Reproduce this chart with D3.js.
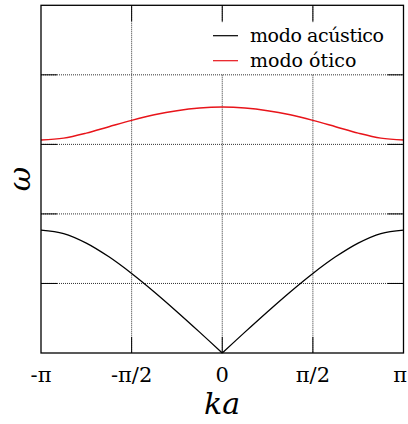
<!DOCTYPE html>
<html><head><meta charset="utf-8">
<script src="https://cdn.jsdelivr.net/npm/d3@7"></script>
<style>
html,body{margin:0;padding:0;background:#fff;}
text{font-family:"DejaVu Serif","Liberation Serif",Times,serif;}
</style></head>
<body><svg id="c" width="408" height="424"></svg>
<script>
// ka in units of pi
const ka = [-1,-0.875,-0.75,-0.625,-0.5,-0.375,-0.25,-0.125,0,0.125,0.25,0.375,0.5,0.625,0.75,0.875,1];
const acoustic = [1.768,1.718,1.581,1.383,1.144,0.878,0.594,0.300,0,0.300,0.594,0.878,1.144,1.383,1.581,1.718,1.768];
const optical  = [3.062,3.090,3.162,3.254,3.345,3.425,3.485,3.523,3.536,3.523,3.485,3.425,3.345,3.254,3.162,3.090,3.062];
const xTicks = [-1,-0.5,0,0.5,1];
const xTickLabels = ["-π","-π/2","0","π/2","π"];
const yTicks = [0,1,2,3,4,5];
const seriesNames = ["modo acústico","modo ótico"];
const seriesColors = ["#000000","#e8141a"];

const L=41, R=403.5, T=5.3, B=353;
const svg = d3.select("#c");
const x = d3.scaleLinear().domain([-1,1]).range([L,R]);
const y = d3.scaleLinear().domain([0,5]).range([B,T]);

// grid
const g = svg.append("g");
g.selectAll(".vg").data(xTicks.slice(1,-1)).join("line")
  .attr("x1",d=>x(d)).attr("x2",d=>x(d)).attr("y1",T).attr("y2",B)
  .attr("stroke","#333").attr("stroke-width",1).attr("stroke-dasharray","1,1");
g.selectAll(".hg").data(yTicks.slice(1,-1)).join("line")
  .attr("y1",d=>y(d)).attr("y2",d=>y(d)).attr("x1",L).attr("x2",R)
  .attr("stroke","#333").attr("stroke-width",1).attr("stroke-dasharray","1,1");

// curves
const pts = (vals)=> ka.map((k,i)=>[k,vals[i]]);
const line = d3.line().x(d=>x(d[0])).y(d=>y(d[1])).curve(d3.curveCatmullRom.alpha(0.5));
const ac = pts(acoustic);
const mid = ka.indexOf(0);
svg.append("path").attr("d",line(ac.slice(0,mid+1))).attr("fill","none").attr("stroke",seriesColors[0]).attr("stroke-width",1.3);
svg.append("path").attr("d",line(ac.slice(mid))).attr("fill","none").attr("stroke",seriesColors[0]).attr("stroke-width",1.3);
svg.append("path").attr("d",line(pts(optical))).attr("fill","none").attr("stroke",seriesColors[1]).attr("stroke-width",1.5);

// legend box (opaque)
svg.append("rect").attr("x",205).attr("y",22.5).attr("width",R-205-0.5).attr("height",51.5).attr("fill","#fff");
const leg = svg.append("g");
seriesNames.forEach((n,i)=>{
  const yy = 35.7 + i*25;
  leg.append("line").attr("x1",213).attr("x2",238).attr("y1",yy).attr("y2",yy)
    .attr("stroke",seriesColors[i]).attr("stroke-width",1.2);
  leg.append("text").attr("x",250).attr("y",yy+6).style("font-size","19px")
    .attr("textLength", i===0 ? 134 : null).text(n);
});

// ticks (mirrored, inward)
const tl = 16;
const tk = svg.append("g").attr("stroke","#000").attr("stroke-width",1);
xTicks.slice(1,-1).forEach(d=>{
  tk.append("line").attr("x1",x(d)).attr("x2",x(d)).attr("y1",B).attr("y2",B-tl);
  tk.append("line").attr("x1",x(d)).attr("x2",x(d)).attr("y1",T).attr("y2",T+tl);
});
yTicks.slice(1,-1).forEach(d=>{
  tk.append("line").attr("y1",y(d)).attr("y2",y(d)).attr("x1",L).attr("x2",L+tl);
  tk.append("line").attr("y1",y(d)).attr("y2",y(d)).attr("x1",R).attr("x2",R-tl);
});

// frame
svg.append("rect").attr("x",L).attr("y",T).attr("width",R-L).attr("height",B-T)
  .attr("fill","none").attr("stroke","#000").attr("stroke-width",1.3);

// x tick labels (last one kept inside the window)
svg.selectAll(".xl").data(xTicks).join("text")
  .attr("x",(d,i)=> i===xTicks.length-1 ? 407 : x(d)).attr("y",382)
  .attr("text-anchor",(d,i)=> i===xTicks.length-1 ? "end" : "middle").style("font-size","21px")
  .text((d,i)=>xTickLabels[i]);

// axis titles
svg.append("text").attr("x",222).attr("y",414).attr("text-anchor","middle")
  .style("font-size","30px").style("font-style","italic").text("ka");
svg.append("text").attr("transform","translate(29.5,179) rotate(-90)")
  .attr("text-anchor","middle").style("font-size","30px").style("font-style","italic").text("ω");
</script></body></html>
